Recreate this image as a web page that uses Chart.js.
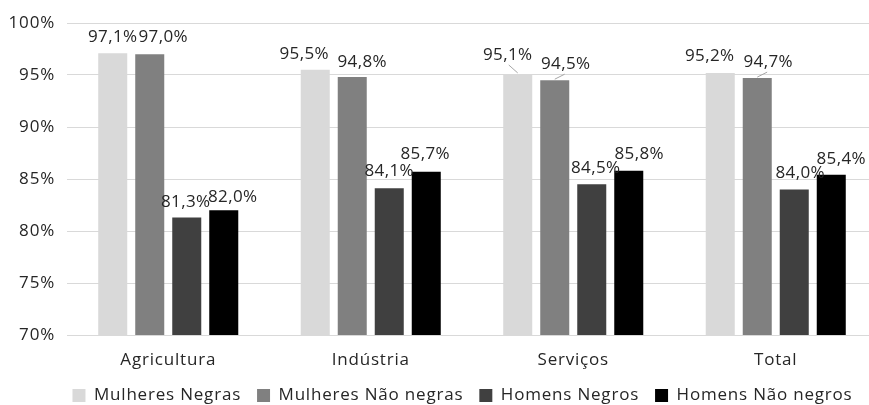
<!DOCTYPE html>
<html>
<head>
<meta charset="utf-8">
<script src="https://cdn.jsdelivr.net/npm/chart.js@4.4.0/dist/chart.umd.min.js"></script>
<style>
  html, body { margin: 0; padding: 0; background: #fff; overflow: hidden; }
  #wrap { width: 925px; height: 414px; }
</style>
</head>
<body>
<div id="wrap"><canvas id="grafico" width="925" height="414"></canvas></div>
<script>
// dados do gráfico
const categorias = ['Agricultura', 'Indústria', 'Serviços', 'Total'];
const mulheresNegras = [97.1, 95.5, 95.1, 95.2];
const mulheresNaoNegras = [97.0, 94.8, 94.5, 94.7];
const homensNegros = [81.3, 84.1, 84.5, 84.0];
const homensNaoNegros = [82.0, 85.7, 85.8, 85.4];
const ticksY = [70, 75, 80, 85, 90, 95, 100];

// ajustes manuais dos rótulos (como no original)
const rotuloDx = [
    [0, -11, -10, -10.5],
    [13.5, 10, 11, 11],
    [-1, 0, 4, 6],
    [9, -1, 10.5, 10]
];
const rotuloDy = [
    [0, 0, -3, -1],
    [-1, 1, 0, 0],
    [1, -1, 0, 0],
    [3, -2, -1, 0]
];
const comLinha = [
    [false, false, true, false],
    [false, false, true, true],
    [false, false, false, false],
    [false, false, false, false]
];

const fonte = "'Open Sans', sans-serif";
const corTexto = '#262626';

function formatar(v) {
    return v.toFixed(1).replace('.', ',') + '%';
}

// espaçamento entre letras, para ficar mais perto da fonte original
const espacamento = {
    id: 'espacamento',
    beforeUpdate(chart) { chart.ctx.letterSpacing = '0.8px'; },
    beforeDraw(chart) { chart.ctx.letterSpacing = '0.8px'; }
};

// a legenda fica centrada na largura toda, não só na área do gráfico
const legendaCentro = {
    id: 'legendaCentro',
    afterLayout(chart) {
        chart.legend.left += 19;
        chart.legend.right += 19;
    }
};

// plugin simples para os rótulos de dados
const rotulosPlugin = {
    id: 'rotulos',
    afterDatasetsDraw(chart) {
        const ctx = chart.ctx;
        ctx.save();
        ctx.letterSpacing = '0.4px';
        ctx.font = '17px ' + fonte;
        ctx.fillStyle = corTexto;
        ctx.textAlign = 'center';
        ctx.textBaseline = 'middle';
        chart.data.datasets.forEach((ds, i) => {
            const meta = chart.getDatasetMeta(i);
            meta.data.forEach((bar, j) => {
                const x = bar.x + rotuloDx[i][j];
                const y = bar.y - 16 + rotuloDy[i][j];
                if (comLinha[i][j]) {
                    ctx.strokeStyle = '#a6a6a6';
                    ctx.lineWidth = 1;
                    ctx.beginPath();
                    ctx.moveTo(x + (bar.x - x) * 0.1, y + 10);
                    ctx.lineTo(bar.x, bar.y - 1);
                    ctx.stroke();
                }
                ctx.fillText(formatar(ds.data[j]), x, y);
            });
        });
        ctx.restore();
    }
};

const series = [
    { label: 'Mulheres Negras', data: mulheresNegras, cor: '#d9d9d9' },
    { label: 'Mulheres Não negras', data: mulheresNaoNegras, cor: '#808080' },
    { label: 'Homens Negros', data: homensNegros, cor: '#404040' },
    { label: 'Homens Não negros', data: homensNaoNegros, cor: '#000000' }
];

new Chart(document.getElementById('grafico'), {
    type: 'bar',
    data: {
        labels: categorias,
        datasets: series.map(s => ({
            label: s.label,
            data: s.data,
            backgroundColor: s.cor,
            borderWidth: 0,
            categoryPercentage: 0.731,
            barPercentage: 0.784
        }))
    },
    options: {
        responsive: false,
        animation: false,
        layout: { padding: { top: 23, left: 10, right: 48, bottom: 0 } },
        scales: {
            y: {
                min: 70,
                max: 100,
                afterBuildTicks(scale) {
                    scale.ticks = ticksY.map(v => ({ value: v }));
                },
                afterFit(scale) { scale.width = 57; },
                border: { display: false },
                grid: { color: '#d9d9d9', drawTicks: false },
                ticks: {
                    padding: 12,
                    color: corTexto,
                    font: { family: fonte, size: 17 },
                    callback: v => v + '%'
                }
            },
            x: {
                afterFit(scale) { scale.height = 36; },
                border: { color: '#d9d9d9' },
                grid: { display: false, drawTicks: false },
                ticks: {
                    padding: 15,
                    color: corTexto,
                    font: { family: fonte, size: 17 }
                }
            }
        },
        plugins: {
            legend: {
                position: 'bottom',
                labels: {
                    boxWidth: 13,
                    boxHeight: 13,
                    padding: 16,
                    color: corTexto,
                    font: { family: fonte, size: 17 }
                }
            },
            tooltip: { enabled: false }
        }
    },
    plugins: [espacamento, legendaCentro, rotulosPlugin]
});
</script>
</body>
</html>
